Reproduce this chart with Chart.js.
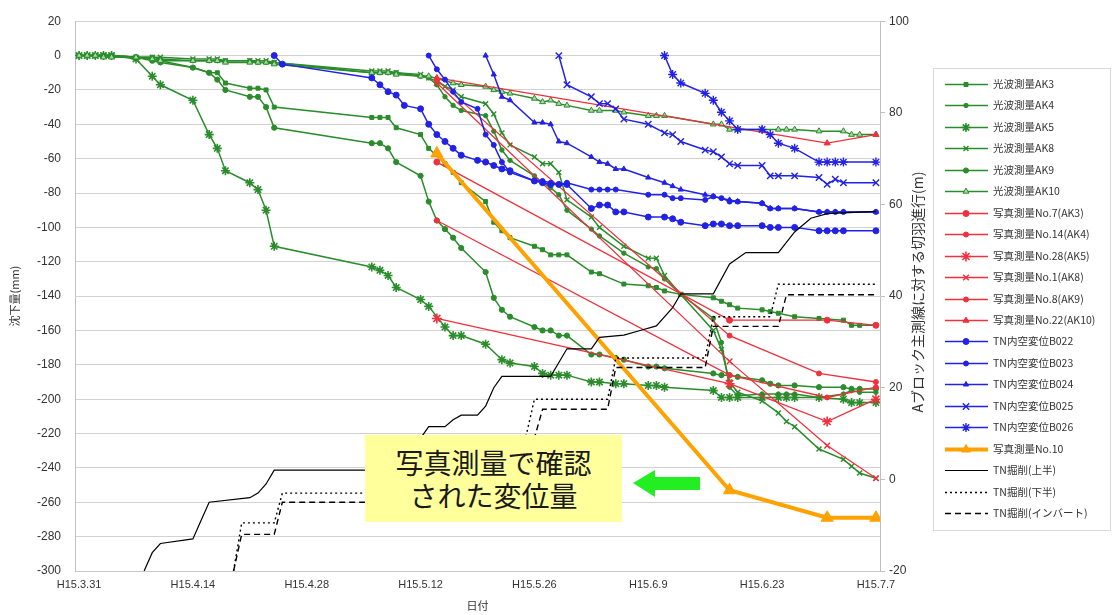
<!DOCTYPE html>
<html><head><meta charset="utf-8">
<script src="https://cdn.jsdelivr.net/npm/chart.js@4.4.0/dist/chart.umd.min.js"></script>
<style>
html,body{margin:0;padding:0;background:#fff;}
#wrap{position:relative;width:1112px;height:615px;overflow:hidden;background:#fff;}
canvas{position:absolute;left:0;top:0;}
#note{position:absolute;left:365px;top:435px;width:257px;height:87px;background:#ffff9c;font-family:"Noto Sans CJK JP";font-size:28px;line-height:33px;color:#1a1a1a;text-align:center;display:flex;flex-direction:column;justify-content:center;}
#arrow{position:absolute;left:630px;top:468px;}
</style></head><body>
<div id="wrap"><canvas id="c" width="1112" height="615"></canvas>
<div id="note"><div>写真測量で確認</div><div>された変位量</div></div>
<svg id="arrow" width="75" height="32"><polygon points="3,15 25,2 25,9 70,9 70,22 25,22 25,29" fill="#22ee22"/></svg>
</div>
<script>
// ---- tick labels (days from H15.3.31) ----
const xTickDays = [0,14,28,42,56,70,84,98];
const xTickLabels = ['H15.3.31','H15.4.14','H15.4.28','H15.5.12','H15.5.26','H15.6.9','H15.6.23','H15.7.7'];
const leftTitle = '沈下量(mm)';
const rightTitle = 'Aブロック主測線に対する切羽進行(m)';
const xTitle = '日付';

// ---- 光波測量 (day, mm) ----
const ak3 = [[0,0],[1,0],[2,0],[3,0],[4,0],[7,-1],[9,-2],[10,-3],[14,-7],[16,-10],[17,-10],[18,-16],[21,-19],[22,-19],[23,-20],[24,-30],[36,-36],[37,-36],[38,-36],[39,-42],[42,-46],[43,-54],[45,-63],[46,-68],[47,-74],[50,-85],[51,-97],[52,-102],[53,-106],[56,-111],[57,-113],[58,-116],[59,-116],[60,-116],[63,-126],[64,-127],[67,-133],[70,-134],[71,-135],[72,-137],[74,-139],[78,-141],[79,-143],[80,-145],[81,-147],[84,-148],[85,-149],[86,-150],[88,-152],[91,-153],[94,-154],[95,-157],[96,-157],[98,-157]];
const ak4 = [[0,0],[1,0],[2,0],[3,0],[4,0],[7,-1],[9,-1],[10,-2],[14,-3],[16,-3],[17,-3],[18,-3],[21,-3],[22,-4],[23,-4],[24,-4],[36,-10],[37,-10],[38,-10],[39,-10],[42,-12],[43,-13],[44,-17],[45,-24],[46,-29],[47,-32],[50,-35],[51,-44],[52,-55],[53,-61],[56,-70],[57,-74],[58,-77],[59,-81],[60,-90],[63,-101],[64,-105],[67,-115],[70,-123],[71,-124],[72,-130],[74,-139],[78,-153],[79,-167],[80,-193],[81,-198],[84,-197],[86,-197],[87,-197],[88,-197],[91,-199],[94,-197],[95,-195],[96,-196],[98,-196]];
const ak5 = [[0,0],[1,0],[2,0],[3,0],[4,0],[7,-2],[9,-12],[10,-17],[14,-26],[16,-46],[17,-54],[18,-67],[21,-74],[22,-78],[23,-90],[24,-111],[36,-123],[37,-125],[38,-128],[39,-135],[42,-142],[43,-146],[45,-158],[46,-163],[47,-163],[50,-168],[52,-177],[53,-179],[56,-181],[57,-185],[58,-186],[59,-186],[60,-186],[63,-190],[64,-190],[66,-191],[67,-191],[70,-192],[71,-192],[72,-193],[78,-195],[79,-199],[80,-199],[81,-199],[84,-199],[86,-199],[87,-199],[88,-199],[91,-199],[94,-200],[95,-202],[96,-202],[98,-202]];
const ak8 = [[0,0],[1,0],[2,0],[3,0],[4,0],[7,-1],[9,-1],[10,-1],[14,-2],[16,-2],[17,-2],[18,-3],[21,-3],[22,-3],[23,-3],[24,-4],[36,-9],[37,-9],[38,-9],[39,-10],[42,-11],[43,-13],[44,-15],[45,-18],[46,-20],[47,-24],[50,-28],[51,-34],[52,-45],[53,-52],[56,-59],[57,-63],[58,-63],[59,-68],[60,-84],[63,-94],[64,-100],[67,-111],[70,-118],[71,-118],[72,-128],[74,-139],[78,-160],[79,-171],[80,-190],[81,-196],[84,-201],[86,-208],[87,-213],[88,-216],[91,-229],[94,-235],[95,-239],[96,-243],[98,-246]];
const ak9 = [[0,0],[1,0],[2,0],[3,0],[4,0],[7,-1],[9,-3],[10,-4],[14,-7],[16,-10],[17,-14],[18,-20],[21,-24],[22,-24],[23,-30],[24,-42],[36,-51],[37,-51],[38,-54],[39,-62],[42,-70],[43,-85],[44,-96],[45,-101],[46,-106],[47,-112],[50,-126],[51,-141],[52,-148],[53,-152],[56,-158],[57,-160],[58,-160],[59,-163],[60,-163],[63,-174],[64,-174],[66,-176],[67,-177],[70,-181],[71,-181],[72,-182],[78,-185],[79,-186],[80,-186],[81,-187],[84,-189],[85,-191],[86,-192],[88,-192],[91,-193],[94,-193],[95,-194],[96,-194],[98,-194]];
const ak10 = [[0,0],[1,0],[2,0],[3,-1],[4,-1],[7,-1],[9,-2],[10,-3],[14,-3],[16,-3],[17,-3],[18,-4],[21,-4],[22,-4],[23,-4],[24,-5],[36,-10],[37,-10],[38,-10],[39,-11],[42,-12],[43,-12],[46,-16],[47,-17],[50,-18],[51,-20],[52,-21],[53,-22],[56,-25],[57,-27],[58,-26],[59,-28],[60,-29],[63,-32],[64,-32],[66,-32],[67,-33],[70,-35],[71,-35],[72,-35],[78,-40],[79,-40],[80,-43],[81,-43],[84,-43],[86,-43],[87,-43],[88,-43],[91,-44],[94,-44],[95,-46],[96,-46],[98,-46]];

// ---- 写真測量 (day, mm) ----
const no7 = [[44,-62],[80,-154],[92,-154],[98,-157]];
const no14 = [[44,-14],[80,-163],[91,-185],[98,-190]];
const no28 = [[44,-153],[80,-191],[92,-213],[98,-200]];
const no1 = [[44,-16],[80,-178],[92,-227],[98,-246]];
const no8 = [[44,-96],[80,-186],[92,-199],[98,-193]];
const no22 = [[44,-13],[92,-51],[98,-46]];
const no10 = [[44,-57],[80,-253],[92,-269],[98,-269]];

// ---- TN内空変位 (day, mm) ----
const b022 = [[24,0],[25,-5],[36,-13],[37,-17],[38,-21],[39,-23],[40,-29],[42,-31],[43,-40],[44,-46],[45,-50],[46,-54],[47,-58],[49,-61],[50,-62],[51,-64],[52,-66],[53,-67],[56,-73],[57,-74],[58,-75],[59,-75],[60,-75],[63,-89],[64,-87],[65,-87],[66,-91],[67,-91],[70,-94],[72,-94],[73,-95],[74,-97],[77,-99],[78,-98],[79,-98],[80,-99],[81,-99],[84,-99],[85,-100],[86,-100],[88,-100],[91,-102],[92,-102],[93,-102],[94,-102],[98,-102]];
const b023 = [[43,0],[44,-8],[45,-14],[46,-21],[47,-27],[49,-31],[50,-46],[51,-52],[52,-62],[53,-68],[56,-73],[57,-73],[58,-74],[59,-75],[60,-74],[63,-78],[64,-78],[65,-78],[66,-78],[70,-81],[72,-81],[73,-83],[74,-83],[77,-84],[78,-82],[79,-83],[80,-85],[81,-85],[84,-86],[85,-89],[86,-89],[88,-89],[91,-91],[92,-91],[93,-91],[94,-91],[98,-91]];
const b024 = [[50,0],[51,-11],[52,-24],[53,-26],[56,-39],[57,-39],[58,-40],[59,-50],[60,-51],[63,-59],[64,-62],[65,-63],[66,-66],[67,-66],[70,-71],[72,-74],[73,-76],[74,-78],[77,-81],[78,-82],[80,-84],[81,-85],[84,-86],[85,-89],[86,-89],[88,-89],[91,-91],[92,-91],[93,-91],[94,-91],[98,-91]];
const b025 = [[59,0],[60,-17],[63,-24],[64,-28],[65,-28],[66,-31],[67,-37],[70,-40],[72,-45],[73,-46],[74,-50],[77,-55],[78,-56],[79,-59],[80,-63],[81,-64],[84,-64],[85,-70],[86,-70],[88,-70],[91,-71],[92,-75],[93,-72],[94,-74],[98,-74]];
const b026 = [[72,0],[73,-11],[74,-16],[77,-22],[78,-26],[79,-33],[80,-38],[81,-43],[84,-43],[85,-46],[86,-51],[88,-54],[91,-62],[92,-62],[93,-62],[94,-62],[98,-62]];

// ---- TN掘削 (day, m) on right axis ----
const tnUpper = [[8,-20],[9,-16],[10,-14],[14,-13],[15,-9],[16,-5],[21,-4],[22,-3],[23,-1],[24,2],[36,2],[37,3],[38,5],[39,7],[42,9],[43,11.5],[45,11.5],[46,13],[47,14],[49,14],[50,16],[51,20],[52,22.5],[58,22.5],[60,28.5],[63,28.5],[64,31],[67,31.5],[69,32.5],[71,33.5],[73,37.5],[74,40.5],[78,40.5],[80,47],[82,49.5],[86,49.5],[88,54],[90,57],[92,58],[98,58.5]];
const tnLower = [[19,-20],[20,-9.5],[24,-9.5],[25,-3],[54,-3],[55,9.7],[56,17.5],[65,17.5],[66,26.5],[77,26.5],[78,35.5],[85,35.5],[86,42.6],[98,42.6]];
const tnInvert = [[19,-20],[20,-12],[24,-12],[25,-5],[55,-5],[56,9],[57,15.3],[65,15.3],[66,24.4],[77,24.4],[78,33.4],[86,33.4],[87,40.3],[98,40.3]];

const GREEN='#2a8c2a', RED='#f0303c', BLUE='#2222e6', ORANGE='#ffa200', BLACK='#000000';
const pts = a => a.map(p => ({x:p[0], y:p[1]}));
function ds(label, arr, color, style, radius, width, extra){
  return Object.assign({label, data:pts(arr), borderColor:color, backgroundColor:color,
    pointBackgroundColor:color, pointBorderColor:color, pointStyle:style, pointRadius:radius,
    pointBorderWidth:1, borderWidth:width, yAxisID:'y', tension:0, fill:false}, extra||{});
}
const datasets = [
  ds('光波測量AK3', ak3, GREEN, 'rect', 2.8, 1.5),
  ds('光波測量AK4', ak4, GREEN, 'circle', 2.2, 1.5),
  ds('光波測量AK5', ak5, GREEN, 'star', 4.5, 1.5, {pointBorderWidth:1.6}),
  ds('光波測量AK8', ak8, GREEN, 'crossRot', 3.5, 1.5, {pointBorderWidth:1.4}),
  ds('光波測量AK9', ak9, GREEN, 'circle', 2.6, 1.5),
  ds('光波測量AK10', ak10, GREEN, 'triangle', 3.4, 1.5, {pointBackgroundColor:'#a8d8a8'}),
  ds('写真測量No.7(AK3)', no7, RED, 'circle', 3, 1.3),
  ds('写真測量No.14(AK4)', no14, RED, 'circle', 2.5, 1.3),
  ds('写真測量No.28(AK5)', no28, RED, 'star', 5, 1.3, {pointBorderWidth:1.6}),
  ds('写真測量No.1(AK8)', no1, RED, 'crossRot', 4, 1.3, {pointBorderWidth:1.4}),
  ds('写真測量No.8(AK9)', no8, RED, 'circle', 2.5, 1.3),
  ds('写真測量No.22(AK10)', no22, RED, 'triangle', 3.5, 1.3),
  ds('TN内空変位B022', b022, BLUE, 'circle', 3, 1.5),
  ds('TN内空変位B023', b023, BLUE, 'circle', 2.5, 1.5),
  ds('TN内空変位B024', b024, BLUE, 'triangle', 3, 1.5),
  ds('TN内空変位B025', b025, BLUE, 'crossRot', 4.5, 1.5, {pointBorderWidth:1.4}),
  ds('TN内空変位B026', b026, BLUE, 'star', 4.5, 1.5, {pointBorderWidth:1.4}),
  ds('写真測量No.10', no10, ORANGE, 'triangle', 7, 4),
  ds('TN掘削(上半)', tnUpper, BLACK, 'circle', 0, 1.2, {yAxisID:'y2'}),
  ds('TN掘削(下半)', tnLower, BLACK, 'circle', 0, 1.4, {yAxisID:'y2', borderDash:[2,3]}),
  ds('TN掘削(インバート)', tnInvert, BLACK, 'circle', 0, 1.4, {yAxisID:'y2', borderDash:[6,4]})
];
datasets.forEach((d,i)=>{ d.order = -i; });

const legendPlugin = {
  id:'xlLegend',
  afterDraw(chart){
    const ctx = chart.ctx;
    ctx.save();
    ctx.strokeStyle='#d9d9d9'; ctx.lineWidth=1;
    ctx.strokeRect(933.5,68.5,177,462);
    chart.data.datasets.forEach((d,i)=>{
      const y = Math.round(84 + i*21.45) + 0.5;
      ctx.save();
      ctx.strokeStyle=d.borderColor; ctx.lineWidth=Math.min(d.borderWidth,4);
      ctx.setLineDash(d.borderDash||[]);
      ctx.beginPath(); ctx.moveTo(945,y); ctx.lineTo(988,y); ctx.stroke();
      ctx.setLineDash([]);
      if (d.pointRadius>0 && Chart.helpers && Chart.helpers.drawPoint){
        ctx.fillStyle=d.pointBackgroundColor; ctx.strokeStyle=d.pointBorderColor; ctx.lineWidth=d.pointBorderWidth;
        Chart.helpers.drawPoint(ctx,{pointStyle:d.pointStyle, radius:Math.min(d.pointRadius,5), borderWidth:d.pointBorderWidth, rotation:0},966,y);
      }
      ctx.restore();
      ctx.fillStyle='#333'; ctx.font='10.5px "Noto Sans CJK JP"'; ctx.textBaseline='middle'; ctx.textAlign='left';
      ctx.fillText(d.label, 993, y);
    });
    ctx.translate(918,292); ctx.rotate(-Math.PI/2);
    ctx.textAlign='center'; ctx.textBaseline='middle';
    ctx.font='14px "Noto Sans CJK JP"'; ctx.fillStyle='#333';
    ctx.fillText(rightTitle,0,0);
    ctx.restore();
  }
};

const tickFont = {family:'"Liberation Sans", Arial, sans-serif', size:12};
new Chart(document.getElementById('c'), {
  type:'line',
  data:{datasets},
  options:{
    responsive:false, animation:false, devicePixelRatio:1, events:[],
    layout:{padding:{top:14,right:177,bottom:0,left:0}},
    plugins:{legend:{display:false}, tooltip:{enabled:false}},
    scales:{
      x:{type:'linear', min:-0.5, max:98.5,
        afterBuildTicks(s){ s.ticks = xTickDays.map(v=>({value:v})); },
        ticks:{autoSkip:false, maxRotation:0, padding:7, color:'#333', font:{family:'"Liberation Sans", Arial, sans-serif', size:11},
          callback:(v)=>{ const i=xTickDays.indexOf(v); return i>=0?xTickLabels[i]:''; }},
        grid:{display:false, drawTicks:false},
        border:{display:true, color:'#c8c8c8'},
        title:{display:true, text:xTitle, color:'#333', font:{family:'"Noto Sans CJK JP"', size:11}, padding:{top:0,bottom:3}},
        afterFit(s){ s.height=44; }
      },
      y:{position:'left', min:-300, max:20,
        ticks:{stepSize:20, padding:14, color:'#333', font:tickFont},
        grid:{color:'#d2d2d2', drawTicks:false, lineWidth:1},
        border:{color:'#c0c0c0'},
        title:{display:true, text:leftTitle, color:'#333', font:{family:'"Noto Sans CJK JP"', size:11}, padding:{top:8,bottom:0}},
        afterFit(s){ s.width=75; }
      },
      y2:{position:'right', min:-20, max:100,
        ticks:{stepSize:20, padding:4, color:'#333', font:tickFont},
        grid:{drawOnChartArea:false, drawTicks:true, tickLength:5, color:'#c0c0c0'},
        border:{color:'#c0c0c0'},
        afterFit(s){ s.width=55; }
      }
    }
  },
  plugins:[legendPlugin]
});
</script>
</body></html>
